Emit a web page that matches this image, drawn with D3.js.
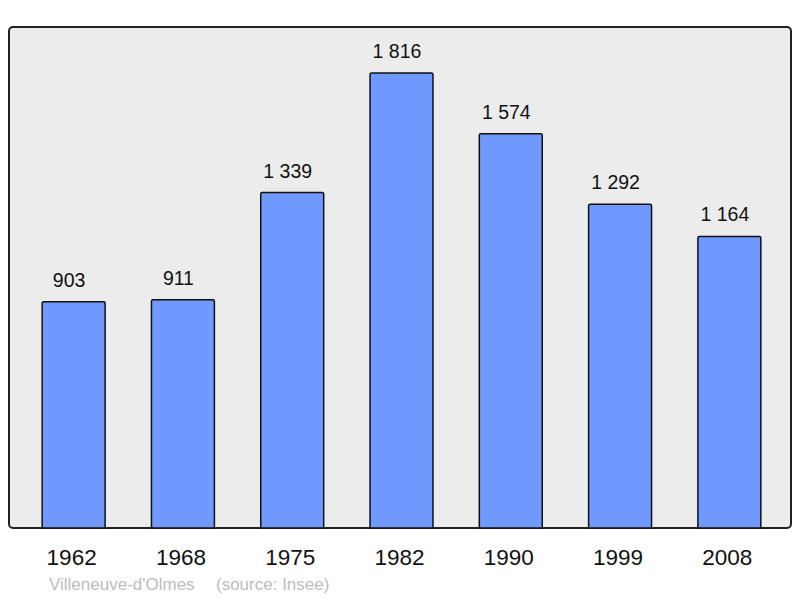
<!DOCTYPE html>
<html>
<head>
<meta charset="UTF-8">
<script src="https://cdnjs.cloudflare.com/ajax/libs/d3/7.8.5/d3.min.js"></script>
<style>
  body { margin: 0; background: #fff; }
  text { font-family: "Liberation Sans", Arial, sans-serif; }
</style>
</head>
<body>
<script>
  var years = ["1962", "1968", "1975", "1982", "1990", "1999", "2008"];
  var population = [903, 911, 1339, 1816, 1574, 1292, 1164];
  var sourceText = ["Villeneuve-d'Olmes", "(source: Insee)"];

  var W = 800, H = 598;
  var svg = d3.select("body").append("svg")
    .attr("width", W).attr("height", H);

  var x = d3.scaleBand()
    .domain(years)
    .range([19, 784])
    .paddingInner(0.424)
    .paddingOuter(0.212);

  var y = d3.scaleLinear().domain([0, 2000]).range([528, 27]);

  // frame
  svg.append("rect")
    .attr("x", 9).attr("y", 27)
    .attr("width", 782).attr("height", 501)
    .attr("rx", 4)
    .attr("fill", "#ececec")
    .attr("stroke", "#222")
    .attr("stroke-width", 2);

  var fmt = function(v) {
    return d3.format(",")(v).replace(",", " ");
  };

  var data = years.map(function(yr, i) { return { year: yr, value: population[i] }; });

  svg.selectAll("rect.bar").data(data).enter().append("rect")
    .attr("class", "bar")
    .attr("x", function(d) { return x(d.year); })
    .attr("y", function(d) { return y(d.value); })
    .attr("width", x.bandwidth())
    .attr("height", function(d) { return y(0) - y(d.value); })
    .attr("rx", 1.5)
    .attr("fill", "#7099ff")
    .attr("stroke", "#111")
    .attr("stroke-width", 1.5);

  svg.selectAll("text.val").data(data).enter().append("text")
    .attr("class", "val")
    .attr("x", function(d) { return x(d.year) + x.bandwidth() / 2 - 4.5; })
    .attr("y", function(d) { return y(d.value) - 15; })
    .attr("text-anchor", "middle")
    .attr("font-size", 19.5)
    .attr("fill", "#111")
    .text(function(d) { return fmt(d.value); });

  svg.selectAll("text.year").data(years).enter().append("text")
    .attr("class", "year")
    .attr("x", function(d) { return x(d) + x.bandwidth() / 2 - 2; })
    .attr("y", 565)
    .attr("text-anchor", "middle")
    .attr("font-size", 22.5)
    .attr("fill", "#111")
    .text(function(d) { return d; });

  svg.append("text")
    .attr("x", 49).attr("y", 590)
    .attr("font-size", 17)
    .attr("fill", "#bdbdbd")
    .text(sourceText[0]);

  svg.append("text")
    .attr("x", 216).attr("y", 590)
    .attr("font-size", 17)
    .attr("fill", "#bdbdbd")
    .text(sourceText[1]);
</script>
</body>
</html>
